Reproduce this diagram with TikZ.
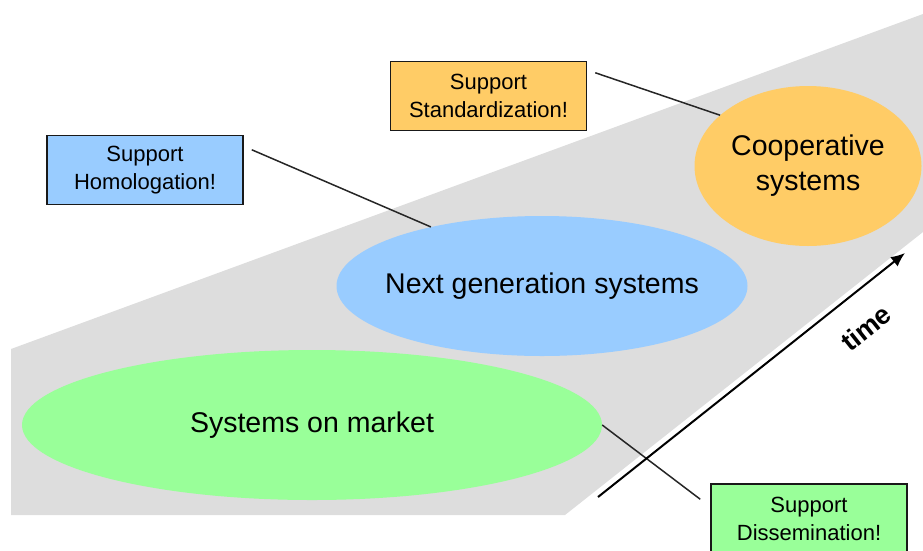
\documentclass[tikz,border=0pt]{standalone}
\usepackage{fontspec}
\setmainfont{Liberation Sans}
\usetikzlibrary{shapes.geometric,arrows.meta}
\definecolor{bandgray}{HTML}{DDDDDD}
\definecolor{orangefill}{HTML}{FFCC66}
\definecolor{bluefill}{HTML}{99CCFF}
\definecolor{greenfill}{HTML}{99FF99}
\begin{document}
\begin{tikzpicture}[x=1pt,y=-1pt,
  supbox/.style={draw=black!90,line width=1.5pt,inner sep=0pt,minimum width=196pt,minimum height=69pt,align=center,font=\fontsize{22}{28}\selectfont},
  blob/.style={ellipse,inner sep=0pt},
  blobtext/.style={font=\fontsize{28.5}{35}\selectfont,align=center},
  conn/.style={draw=black!85,line width=1.5pt},
  timearrow/.style={line width=2pt,-{Latex[length=14pt,width=12pt]}}]
\useasboundingbox (0,0) rectangle (923,550);
\clip (0,0) rectangle (923,550);
\fill[bandgray] (11,349) -- (923,14) -- (923,232) -- (565,515) -- (11,515) -- cycle;
\node[blob,fill=greenfill,minimum width=580pt,minimum height=150pt,
  label={[blobtext]center:Systems on market}] (mkt) at (312,425) {};
\node[blob,fill=bluefill,minimum width=411pt,minimum height=140pt,
  label={[blobtext]center:Next generation systems}] (next) at (542,286) {};
\node[blob,fill=orangefill,minimum width=227pt,minimum height=160pt,
  label={[blobtext]center:Cooperative\\systems}] (coop) at (808,166) {};
\node[supbox,fill=orangefill] (std) at (488.5,96) {Support\\Standardization!};
\node[supbox,fill=bluefill] (hom) at (145,170) {Support\\Homologation!};
\node[supbox,fill=greenfill] (dis) at (809,518.5) {Support\\Dissemination!};
\draw[conn] ([shift={(8,12)}]std.north east) -- (coop.150);
\draw[conn] ([shift={(8,15)}]hom.north east) -- (next.152);
\draw[conn] (mkt.east) -- ([shift={(-10,16)}]dis.north west);
\coordinate (t0) at (598,497);
\coordinate (t1) at (905,253);
\draw[timearrow] (t0) -- (t1);
\node[font=\bfseries\fontsize{27}{30}\selectfont,rotate=38.5] (time) at (866,328) {time};
\end{tikzpicture}
\end{document}
